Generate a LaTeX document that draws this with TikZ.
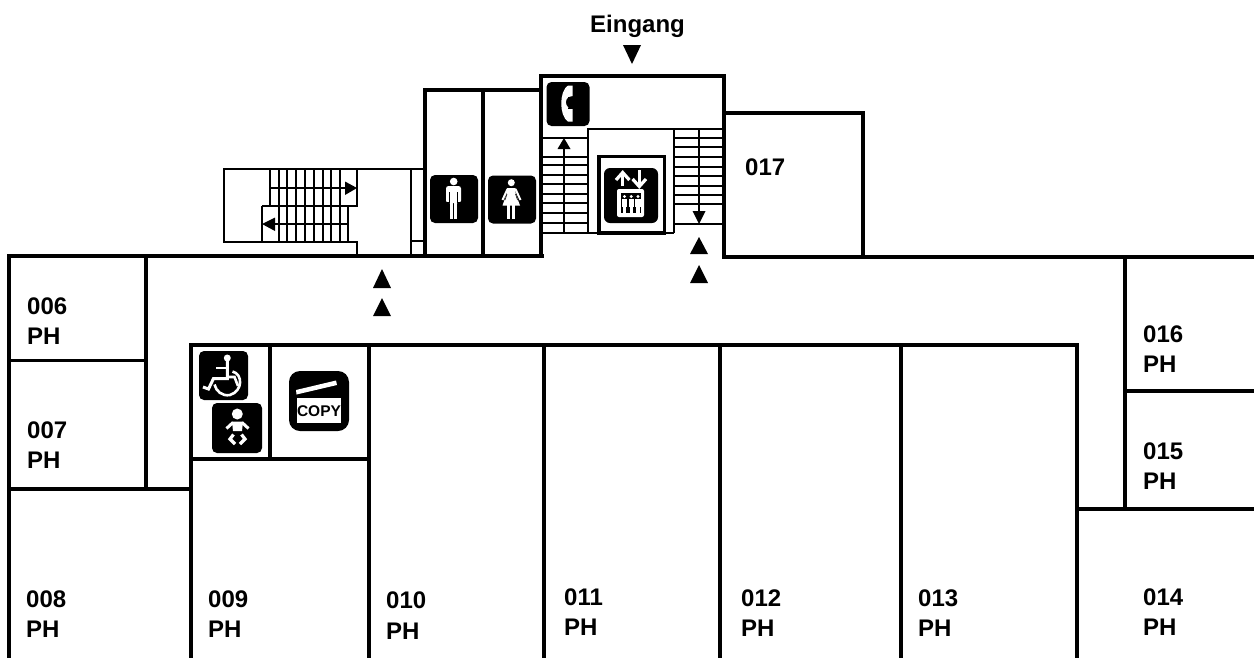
\documentclass[tikz,border=0pt]{standalone}
\usepackage{fontspec}
\setmainfont{Liberation Sans}
\tikzset{
  x=1pt,y=-1pt,
  wall/.style={line width=3.6pt,line cap=rect,black},
  thin wall/.style={line width=2.8pt,line cap=butt,black},
  flight/.style={line width=2.8pt,black},
  label/.style={font=\fontsize{24}{24}\selectfont\bfseries,anchor=base west,inner sep=0pt},
  icon/.style={fill=black,rounded corners=5pt},
  glyph/.style={fill=white,draw=none},
  wline/.style={white,line width=#1,line join=miter},
  tri/.style={fill=black,draw=none},
  pil/.style={line width=2.4pt,black},
}
\begin{document}
\begin{tikzpicture}
\useasboundingbox (0,0) rectangle (1254,657);
% walls
\draw[wall] (9,657) -- (9,256) -- (542,256);
\draw[wall] (724,257) -- (1254,257);
\draw[wall] (146,256) -- (146,489);
\draw[wall] (9,360.5) -- (146,360.5);
\draw[wall] (9,489) -- (191,489);
\draw[wall] (191,657) -- (191,345) -- (1077,345) -- (1077,657);
\draw[wall] (369,345) -- (369,657);
\draw[wall] (544,345) -- (544,657);
\draw[wall] (720,345) -- (720,657);
\draw[wall] (901,345) -- (901,657);
\draw[wall] (270,345) -- (270,459);
\draw[wall] (191,459) -- (369,459);
\draw[wall] (1077,509) -- (1254,509);
\draw[wall] (1125,257) -- (1125,509);
\draw[wall] (1125,391) -- (1254,391);
\draw[wall] (425,256) -- (425,90) -- (541,90);
\draw[wall] (483,90) -- (483,256);
\draw[wall] (541,256) -- (541,76) -- (724,76) -- (724,257);
\draw[wall] (724,113) -- (863,113) -- (863,257);
% left stairs
\draw[thin wall] (425,169) -- (224,169) -- (224,242) -- (357,242) -- (357,256);
\draw[thin wall] (411,169) -- (411,256);
\draw[thin wall] (411,241) -- (425,241);
\draw[thin wall] (270,169) -- (270,206);
\draw[thin wall] (262,206) -- (262,242);
\draw[thin wall] (357,169) -- (357,207);
\draw[thin wall] (262,206) -- (357,206);
\foreach \sx in {279,287,296,305,314,323,331,340}{\draw[thin wall] (\sx,169) -- (\sx,242);}
\draw[thin wall] (348,206) -- (348,242);
\draw[flight] (270,188) -- (346,188);
\fill[tri] (357,188) -- (345,181.5) -- (345,195) -- cycle;
\draw[flight] (274,224) -- (348,224);
\fill[tri] (262,224) -- (275,217.5) -- (275,231) -- cycle;
% centre
\draw[thin wall] (541,233) -- (674,233);
\draw[thin wall] (588,233) -- (588,129) -- (724,129);
\draw[thin wall] (674,129) -- (674,233);
\foreach \sy in {138,147,157,167,176,186,195,204,224}{\draw[flight] (674,\sy) -- (724,\sy);}
\foreach \sy in {138,157,165,175,184,194,203,213,223}{\draw[flight] (541,\sy) -- (588,\sy);}
\draw[pil] (699,129) -- (699,212);
\fill[tri] (699,224) -- (692.5,211) -- (705.5,211) -- cycle;
\draw[pil] (564,233) -- (564,148);
\fill[tri] (564,138) -- (557.5,149) -- (570.5,149) -- cycle;
\draw[line width=3.4pt] (599,233) -- (599,156.5) -- (664.5,156.5) -- (664.5,233);
\draw[line width=3.4pt] (597,233) -- (666,233);
% elevator icon
\fill[icon,rounded corners=6pt] (604,168) rectangle (658,223);
\fill[glyph,rounded corners=2pt] (617,189) rectangle (644,217);
\fill[black] (621,193) rectangle (640.5,213);
\foreach \ex in {624.5,631.3,638}{
  \fill[glyph] (\ex,196.5) circle (1.6pt);
  \fill[glyph] (\ex-2.7,199) rectangle (\ex+2.7,206.5);
  \fill[glyph] (\ex-1.7,206) rectangle (\ex+1.7,213);
}
\draw[wline=3.2pt] (622.7,186) -- (622.7,173);
\draw[wline=3.2pt] (616,180) -- (622.7,172.5) -- (629.4,180);
\draw[wline=3.2pt] (639.3,170) -- (639.3,186);
\draw[wline=3.2pt] (632.6,179) -- (639.3,186.5) -- (646,179);
% phone icon
\fill[icon] (546.5,82) rectangle (589.5,126);
\fill[glyph] (568,85.5) .. controls (559,91) and (559,116) .. (568,121.5) -- (572.5,121.5) -- (572.5,109) -- (568.5,108) .. controls (565,104) and (565,100) .. (568.5,97) -- (572.5,96) -- (572.5,85.5) -- cycle;
\draw[black,line width=0.8pt] (568,97) -- (573,97) (568,108) -- (573,108);
% man
\fill[icon] (430,175) rectangle (478,223);
\fill[glyph] (453.7,181.5) circle (3.8pt);
\fill[glyph,rounded corners=2.5pt] (446,186) rectangle (461,203);
\fill[black] (449,192) rectangle (450,203);
\fill[black] (457,192) rectangle (458,203);
\fill[black] (445,201.5) rectangle (449,204);
\fill[black] (458,201.5) rectangle (462,204);
\fill[glyph] (450,200) rectangle (453.2,219);
\fill[glyph] (454.2,200) rectangle (457.4,219);
% woman
\fill[icon] (488,175.5) rectangle (536,223.5);
\fill[glyph] (511.3,182.7) circle (3.5pt);
\fill[glyph] (507,188) -- (515.5,188) -- (515.5,193) -- (520,205.5) -- (502.5,205.5) -- (507,193) -- cycle;
\fill[glyph] (507.3,205) rectangle (510,219);
\fill[glyph] (512,205) rectangle (514.7,219);
\draw[wline=2pt] (507.5,189) -- (502.5,200) (515.5,189) -- (520.5,200);
\draw[black,line width=0.6pt] (507,194) -- (505,200) (515.5,194) -- (517.5,200);
% wheelchair
\fill[icon] (199,351) rectangle (248,400);
\fill[glyph] (227.3,358) circle (3.5pt);
\draw[wline=3pt] (227.3,360) -- (227.3,378.5) -- (213.5,378.5) -- (208.5,389) -- (203,387);
\draw[wline=2.6pt] (216,368) -- (227,368);
\draw[wline=2.6pt] (227,377) -- (234.5,377) -- (238,386);
\draw[wline=2.6pt] (232.5,371.5) .. controls (243,374) and (243,391) .. (230,395) .. controls (222,396.5) and (216,391) .. (214.5,384.5);
% baby
\fill[icon] (212,403) rectangle (262,453);
\fill[glyph] (237.3,414) circle (5.5pt);
\fill[glyph] (232,421.5) -- (243,421.5) -- (242,431) -- (233,431) -- cycle;
\draw[wline=3pt] (233,422.5) -- (226.5,428.5) (242,422.5) -- (248.5,428.5);
\draw[wline=3.2pt] (233.5,434.5) -- (230,439) -- (235,444);
\draw[wline=3.2pt] (241.5,434.5) -- (245,439) -- (240,444);
% copy
\fill[icon,rounded corners=11pt] (289,371) rectangle (349,431);
\fill[glyph] (296,390) -- (336,380.5) -- (337,385) -- (296.5,394.5) -- cycle;
\fill[glyph] (297,397.5) rectangle (341,423);
\node[font=\fontsize{15.5}{15.5}\selectfont\bfseries,inner sep=0pt] (copy) at (319,411) {COPY};
% triangles
\fill[tri] (623,45) -- (641,45) -- (632,64) -- cycle;
\fill[tri] (690,254) -- (708,254) -- (699,237) -- cycle;
\fill[tri] (690,283) -- (708,283) -- (699,265) -- cycle;
\fill[tri] (373,288) -- (391,288) -- (382,269) -- cycle;
\fill[tri] (373,316) -- (391,316) -- (382,298) -- cycle;
% labels
\node[label] (eingang) at (590,32.5) {Eingang};
\node[label] (r017) at (745,175) {017};
\node[label] (r006) at (27,314) {006};
\node[label] (p006) at (27,344.5) {PH};
\node[label] (r007) at (27,438) {007};
\node[label] (p007) at (27,468.5) {PH};
\node[label] (r008) at (26,607) {008};
\node[label] (p008) at (26,637.5) {PH};
\node[label] (r009) at (208,607) {009};
\node[label] (p009) at (208,637.5) {PH};
\node[label] (r010) at (386,608) {010};
\node[label] (p010) at (386,639.5) {PH};
\node[label] (r011) at (564,605) {011};
\node[label] (p011) at (564,635.5) {PH};
\node[label] (r012) at (741,606) {012};
\node[label] (p012) at (741,636.5) {PH};
\node[label] (r013) at (918,606) {013};
\node[label] (p013) at (918,636.5) {PH};
\node[label] (r014) at (1143,605) {014};
\node[label] (p014) at (1143,635.5) {PH};
\node[label] (r015) at (1143,459) {015};
\node[label] (p015) at (1143,489.5) {PH};
\node[label] (r016) at (1143,342) {016};
\node[label] (p016) at (1143,372.5) {PH};
\end{tikzpicture}
\end{document}
